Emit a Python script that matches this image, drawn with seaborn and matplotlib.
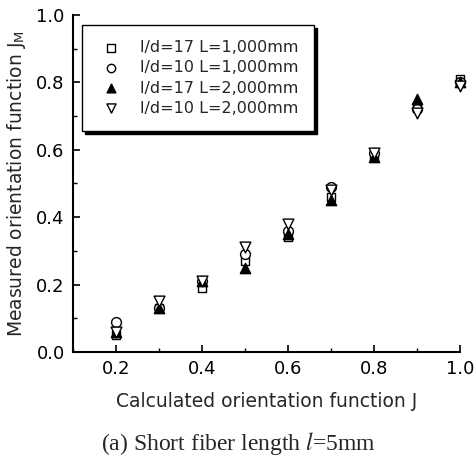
import numpy as np
import pandas as pd
import matplotlib
matplotlib.use("Agg")
import matplotlib.pyplot as plt
import seaborn as sns
from matplotlib.ticker import MultipleLocator

# Data
j_calc = [0.2, 0.3, 0.4, 0.5, 0.6, 0.7, 0.8, 0.9, 1.0]
jm_ld17_l1000 = [0.05, 0.13, 0.19, 0.27, 0.34, 0.46, 0.58, 0.73, 0.81]
jm_ld10_l1000 = [0.09, 0.13, 0.21, 0.29, 0.36, 0.49, 0.59, 0.72, 0.80]
jm_ld17_l2000 = [0.06, 0.13, 0.21, 0.25, 0.35, 0.45, 0.58, 0.75, 0.80]
jm_ld10_l2000 = [0.06, 0.15, 0.21, 0.31, 0.38, 0.48, 0.59, 0.71, 0.79]

series_names = ["l/d=17 L=1,000mm", "l/d=10 L=1,000mm",
                "l/d=17 L=2,000mm", "l/d=10 L=2,000mm"]
series_vals = [jm_ld17_l1000, jm_ld10_l1000, jm_ld17_l2000, jm_ld10_l2000]

df = pd.concat(
    [pd.DataFrame({"J": j_calc, "JM": v, "series": n})
     for n, v in zip(series_names, series_vals)],
    ignore_index=True,
)

sns.set_style("ticks")
plt.rcParams["font.family"] = ["DejaVu Sans"]
plt.rcParams["mathtext.fontset"] = "stix"

fig = plt.figure(figsize=(4.77, 4.57), dpi=100)
ax = fig.add_axes([0.153, 0.230, 0.811, 0.737])

styles = [("s", "white", 40), ("o", "white", 50), ("^", "black", 55), ("v", "white", 60)]
for name, (mk, fc, sz) in zip(series_names, styles):
    sub = df[df["series"] == name]
    sns.scatterplot(data=sub, x="J", y="JM", marker=mk, s=sz, color=fc,
                    edgecolor="black", linewidth=1.0, ax=ax, label=name,
                    zorder=3, clip_on=False)

ax.set_xlim(0.1, 1.0)
ax.set_ylim(0.0, 1.0)
ax.xaxis.set_major_locator(MultipleLocator(0.2))
ax.xaxis.set_minor_locator(MultipleLocator(0.1))
ax.yaxis.set_major_locator(MultipleLocator(0.2))
ax.yaxis.set_minor_locator(MultipleLocator(0.1))
ax.set_xticks([0.2, 0.4, 0.6, 0.8, 1.0])
ax.tick_params(which="both", direction="in", colors="black", labelsize=13)
ax.tick_params(which="major", length=5, width=1.2, pad=6)
ax.tick_params(which="minor", length=3, width=1.0)
for side in ["top", "right"]:
    ax.spines[side].set_visible(False)
for side in ["left", "bottom"]:
    ax.spines[side].set_linewidth(1.5)
    ax.spines[side].set_color("black")

ax.set_xlabel("Calculated orientation function J", fontsize=13.5, labelpad=10)
ax.set_ylabel("Measured orientation function J$_\\mathregular{M}$", fontsize=13.5, labelpad=6)

leg = ax.legend(loc="upper left", bbox_to_anchor=(0.023, 0.97), frameon=True,
                fancybox=False, shadow={"color": "black", "alpha": 1.0},
                fontsize=11.5, handletextpad=0.9, borderpad=0.95,
                labelspacing=0.32, markerscale=0.85, handlelength=1.8,
                borderaxespad=0)
leg.get_frame().set_edgecolor("black")
leg.get_frame().set_linewidth(1.0)

fig.text(0.5, 0.03, "(a) Short fiber length $\\it{l}$=5mm", ha="center",
         va="center", fontsize=17, family=["Liberation Serif", "DejaVu Serif"])

fig.savefig("out.png", dpi=100)
